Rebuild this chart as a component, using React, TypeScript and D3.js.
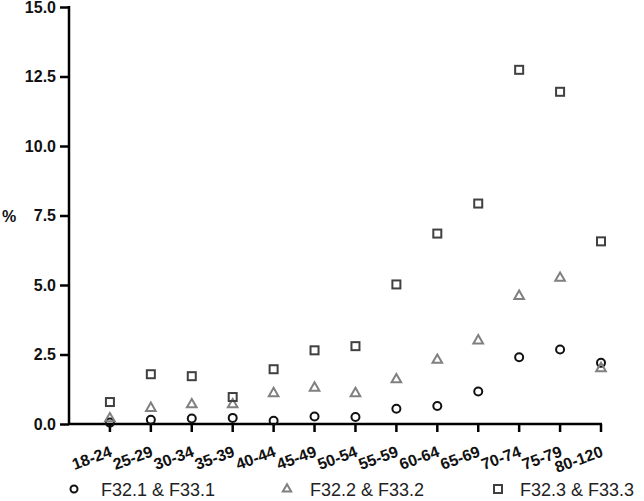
import React, { useEffect, useRef } from 'react';
import * as d3 from 'd3';

// age groups on x
const ageGroups = ['18-24', '25-29', '30-34', '35-39', '40-44', '45-49', '50-54', '55-59', '60-64', '65-69', '70-74', '75-79', '80-120'];
const yTicks = [0, 2.5, 5, 7.5, 10, 12.5, 15];

// series values (%)
const mild = [0.05, 0.15, 0.2, 0.22, 0.12, 0.27, 0.25, 0.55, 0.65, 1.17, 2.4, 2.68, 2.2];
const moderate = [0.2, 0.57, 0.7, 0.7, 1.1, 1.3, 1.1, 1.6, 2.3, 3.0, 4.6, 5.25, 2.0];
const severe = [0.79, 1.79, 1.72, 0.97, 1.97, 2.65, 2.8, 5.02, 6.85, 7.93, 12.74, 11.95, 6.57];

const seriesNames = ['F32.1 & F33.1', 'F32.2 & F33.2', 'F32.3 & F33.3'];

const W = 644, H = 501;

export default function App() {
  const ref = useRef<SVGSVGElement>(null);

  useEffect(() => {
    const svg = d3.select(ref.current);
    svg.selectAll('*').remove();

    const left = 69, top = 7, bottom = 424;
    const x = d3.scaleLinear().domain([0, ageGroups.length]).range([left, 601]);
    const y = d3.scaleLinear().domain([0, 15]).range([bottom, top]);

    const font = "'Liberation Sans', Arial, sans-serif";

    // y axis
    const yAxis = d3.axisLeft(y).tickValues(yTicks).tickFormat(d3.format('.1f')).tickSize(9).tickPadding(4);
    const gy = svg.append('g').attr('transform', `translate(${left},0)`).call(yAxis);
    gy.select('.domain').attr('stroke', '#000').attr('stroke-width', 2.5).attr('d', `M0,${top - 1}V${bottom}`);
    gy.selectAll('.tick line').attr('stroke', '#000').attr('stroke-width', 2.5);
    gy.selectAll('.tick text')
      .attr('fill', '#111').style('font-family', font).style('font-weight', 'bold').style('font-size', '16px');

    // x axis
    const gx = svg.append('g').attr('transform', `translate(0,${bottom})`);
    gx.append('line').attr('x1', left).attr('x2', x(ageGroups.length) + 1).attr('stroke', '#000').attr('stroke-width', 2.5);
    ageGroups.forEach((g, i) => {
      const px = x(i + 1);
      gx.append('line').attr('x1', px).attr('x2', px).attr('y1', 0).attr('y2', 8).attr('stroke', '#000').attr('stroke-width', 2.5);
      gx.append('text')
        .attr('transform', `translate(${px + 3},${32}) rotate(-20)`)
        .attr('text-anchor', 'end')
        .style('font-family', font).style('font-weight', 'bold').style('font-size', '16px')
        .attr('fill', '#111')
        .text(g);
    });

    // y label
    svg.append('text').attr('x', 2).attr('y', 222)
      .style('font-family', font).style('font-weight', 'bold').style('font-size', '16px')
      .attr('fill', '#111').text('%');

    // points
    const pts = svg.append('g');
    mild.forEach((v, i) => {
      pts.append('circle').attr('cx', x(i + 1)).attr('cy', y(v)).attr('r', 4)
        .attr('fill', 'none').attr('stroke', '#111').attr('stroke-width', 2);
    });
    const tri = d3.symbol().type(d3.symbolTriangle).size(40);
    moderate.forEach((v, i) => {
      pts.append('path').attr('d', tri()).attr('transform', `translate(${x(i + 1)},${y(v)})`)
        .attr('fill', 'none').attr('stroke', '#808080').attr('stroke-width', 2);
    });
    severe.forEach((v, i) => {
      pts.append('rect').attr('x', x(i + 1) - 4).attr('y', y(v) - 4).attr('width', 8).attr('height', 8)
        .attr('fill', 'none').attr('stroke', '#404040').attr('stroke-width', 2);
    });

    // legend
    const leg = svg.append('g').attr('transform', 'translate(0,489)');
    leg.append('circle').attr('cx', 74).attr('cy', 0).attr('r', 3.5).attr('fill', 'none').attr('stroke', '#111').attr('stroke-width', 2);
    leg.append('path').attr('d', d3.symbol().type(d3.symbolTriangle).size(30)()).attr('transform', 'translate(287,0)').attr('fill', 'none').attr('stroke', '#808080').attr('stroke-width', 2);
    leg.append('rect').attr('x', 494).attr('y', -4).attr('width', 8).attr('height', 8).attr('fill', 'none').attr('stroke', '#404040').attr('stroke-width', 2);
    [101, 310, 520].forEach((lx, i) => {
      leg.append('text').attr('x', lx).attr('y', 7)
        .style('font-family', font).style('font-size', '18px').attr('fill', '#222')
        .text(seriesNames[i]);
    });
  }, []);

  return (
    <div style={{ position: 'absolute', left: 0, top: 0 }}>
      <svg ref={ref} width={W} height={H} style={{ display: 'block', background: '#fff' }} />
    </div>
  );
}
